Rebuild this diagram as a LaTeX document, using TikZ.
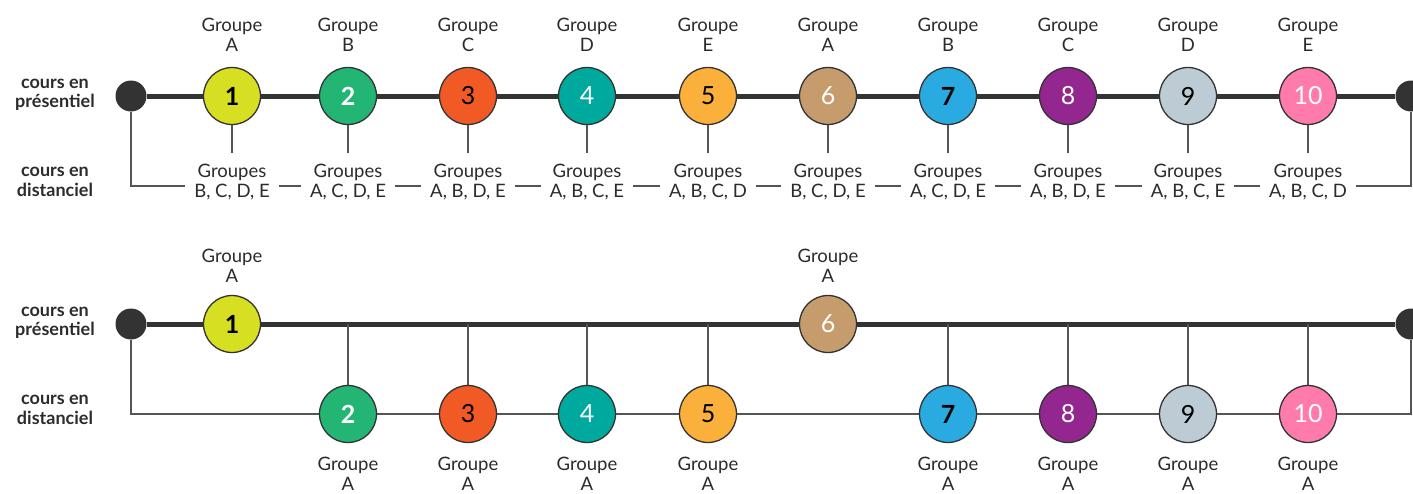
\documentclass[tikz,border=0pt]{standalone}
\usepackage{fontspec}
\setmainfont{Lato}
\usetikzlibrary{backgrounds}
\definecolor{c1}{HTML}{D7DF23}
\definecolor{c2}{HTML}{23B574}
\definecolor{c3}{HTML}{F15A24}
\definecolor{c4}{HTML}{00A99D}
\definecolor{c5}{HTML}{FBB03B}
\definecolor{c6}{HTML}{C69C6D}
\definecolor{c7}{HTML}{29ABE2}
\definecolor{c8}{HTML}{93278F}
\definecolor{c9}{HTML}{BDCCD4}
\definecolor{c10}{HTML}{FF7BAC}
\definecolor{dotc}{HTML}{333333}
\definecolor{thinc}{HTML}{555555}
\definecolor{txtc}{HTML}{2B2B2B}
\begin{document}
\begin{tikzpicture}[x=1pt,y=-1pt,
  num/.style={circle,draw=dotc,line width=1.3pt,minimum size=57pt,inner sep=0pt,font=\fontsize{25}{25}\selectfont},
  dot/.style={circle,fill=dotc,minimum size=31pt,inner sep=0pt},
  mainline/.style={line width=5pt,draw=dotc},
  thin/.style={line width=1.2pt,draw=thinc},
  lbl/.style={align=center,font=\fontsize{18.5}{20.5}\selectfont,text=txtc,inner sep=0pt},
  dlbl/.style={lbl,fill=white,inner xsep=9pt,inner ysep=1pt},
  side/.style={align=center,font=\fontsize{18}{19.5}\selectfont\bfseries,text=txtc,inner sep=0pt}
]
\useasboundingbox (0,0) rectangle (1413,493);

% ---------- top diagram ----------
\node[side] (p1) at (55,95) {cours en\\présentiel};
\node[side] (d1) at (55,182) {cours en\\distanciel};
\node[dot] (L1) at (131,96) {};
\node[dot] (R1) at (1411,96) {};
\coordinate (DR1) at (1411,186);

\foreach \i/\x/\tc/\w/\g/\gs in {1/232/black/\bfseries/A/{B, C, D, E},
  2/348/white/\bfseries/B/{A, C, D, E},
  3/468/black//C/{A, B, D, E},
  4/587/white//D/{A, B, C, E},
  5/708/black//E/{A, B, C, D},
  6/828/white//A/{B, C, D, E},
  7/948/black/\bfseries/B/{A, C, D, E},
  8/1068/white//C/{A, B, D, E},
  9/1188/black//D/{A, B, C, E},
  10/1308/white//E/{A, B, C, D}}{
  \node[num,fill=c\i,text=\tc] (t\i) at (\x,96) {\w\i};
  \node[lbl] (tg\i) at (\x,35) {Groupe\\\g};
  \coordinate (ts\i) at (\x,153);
  \node[dlbl] (tl\i) at (\x,182) {Groupes\\\gs};
}
\begin{scope}[on background layer]
  \draw[mainline] (L1) -- (R1);
  \draw[thin] (L1) |- (DR1) -- (R1);
\end{scope}
\foreach \i in {1,...,10}{
  \draw[thin] (t\i) -- (ts\i);
}

% ---------- bottom diagram ----------
\node[side] (p2) at (55,323) {cours en\\présentiel};
\node[side] (d2) at (55,410) {cours en\\distanciel};
\node[dot] (L2) at (131,324) {};
\node[dot] (R2) at (1411,324) {};
\coordinate (DR2) at (1411,414);

\node[num,fill=c1,text=black] (b1) at (232,324) {\bfseries 1};
\node[lbl] (bg1) at (232,266) {Groupe\\A};
\node[num,fill=c6,text=white] (b6) at (828,324) {6};
\node[lbl] (bg6) at (828,266) {Groupe\\A};

\foreach \i/\x/\tc/\w in {2/348/white/\bfseries,3/468/black/,4/587/white/,5/708/black/,
  7/948/black/\bfseries,8/1068/white/,9/1188/black/,10/1308/white/}{
  \node[num,fill=c\i,text=\tc] (b\i) at (\x,414) {\w\i};
  \node[lbl] (bg\i) at (\x,474) {Groupe\\A};
  \coordinate (bs\i) at (\x,324);
}
\begin{scope}[on background layer]
  \draw[mainline] (L2) -- (R2);
  \draw[thin] (L2) |- (DR2) -- (R2);
  \foreach \i in {2,3,4,5,7,8,9,10}{
    \draw[thin] (bs\i) -- (b\i);
  }
\end{scope}
\end{tikzpicture}
\end{document}
